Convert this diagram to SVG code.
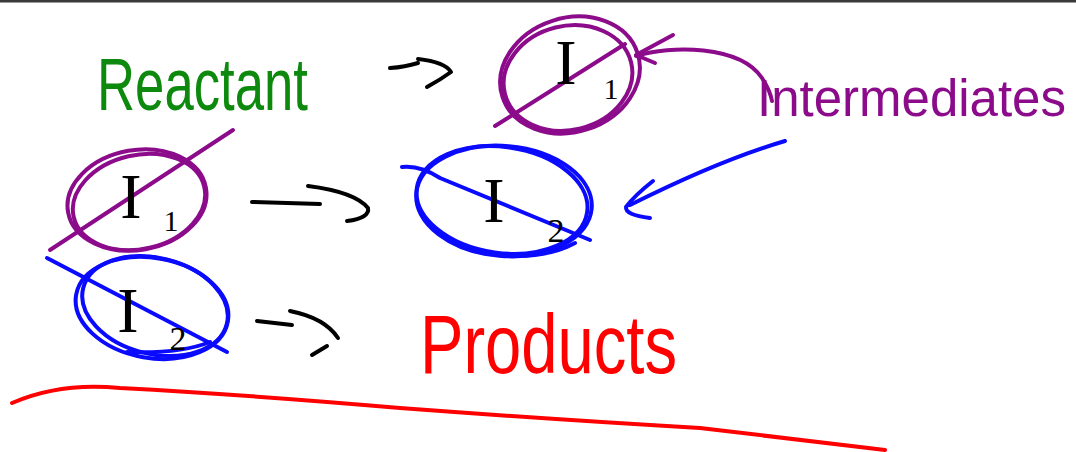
<svg xmlns="http://www.w3.org/2000/svg" width="1076" height="452" viewBox="0 0 1076 452">
<style>
.ink{fill:none;stroke-width:4;stroke-linecap:round;stroke-linejoin:round}
.k{stroke:#000}
.p{stroke:#8b0b8b}
.b{stroke:#0a0aff}
.r{stroke:#ff0000}
.hand{font-family:"Liberation Sans","DejaVu Sans",sans-serif}
.ivar{font-family:"Liberation Serif","DejaVu Serif",serif;fill:#000}
</style>
<rect width="1076" height="452" fill="#fff"/>
<rect x="0" y="0" width="1076" height="2.5" fill="#3a3a3a"/>

<g id="reactant">
<text class="hand" x="97" y="110" font-size="74" textLength="211" lengthAdjust="spacingAndGlyphs" fill="#0d8a0d">Reactant</text>
</g>

<g id="i1-top">
<ellipse class="ink p" cx="570" cy="75" rx="71" ry="57" transform="rotate(-18 570 75)"/>
<ellipse class="ink p" cx="568" cy="78" rx="65" ry="52" transform="rotate(-14 568 78)"/>
<path class="ink p" d="M495,126 L625,44"/>
<text class="ivar" x="566" y="84" font-size="64" text-anchor="middle">I</text>
<text class="ivar" x="611" y="99" font-size="30" text-anchor="middle">1</text>
</g>

<g id="intermediates">
<text class="hand" x="757" y="116" font-size="51" fill="#8b0b8b">Intermediates</text>
</g>

<g id="i1">
<ellipse class="ink p" cx="137" cy="200" rx="70" ry="50" transform="rotate(-10 137 200)"/>
<ellipse class="ink p" cx="139" cy="202" rx="67" ry="47" transform="rotate(-13 139 202)"/>
<path class="ink p" d="M50,250 L233,130"/>
<text class="ivar" x="131" y="218" font-size="64" text-anchor="middle">I</text>
<text class="ivar" x="171" y="231" font-size="30" text-anchor="middle">1</text>
</g>

<g id="i2">
<ellipse class="ink b" cx="504" cy="201" rx="88" ry="55" transform="rotate(5 504 201)"/>
<ellipse class="ink b" cx="502" cy="200" rx="86" ry="53" transform="rotate(8 502 200)"/>
<path class="ink b" d="M402,167 Q420,165 440,178 L590,240"/>
<path class="ink b" d="M482,253 Q540,262 575,243"/>
<text class="ivar" x="494" y="222" font-size="64" text-anchor="middle">I</text>
<text class="ivar" x="556" y="242" font-size="34" text-anchor="middle">2</text>
</g>

<g id="i2-bottom">
<ellipse class="ink b" cx="152" cy="308" rx="77" ry="50" transform="rotate(10 152 308)"/>
<ellipse class="ink b" cx="155" cy="306" rx="74" ry="48" transform="rotate(14 155 306)"/>
<path class="ink b" d="M47,258 L227,352"/>
<path class="ink b" d="M127,352 Q180,354 210,342"/>
<text class="ivar" x="128" y="332" font-size="64" text-anchor="middle">I</text>
<text class="ivar" x="178" y="350" font-size="34" text-anchor="middle">2</text>
</g>

<g id="products">
<text class="hand" x="420" y="373" font-size="84" textLength="257" lengthAdjust="spacingAndGlyphs" fill="#ff0000">Products</text>
</g>

<g id="connectors">
<path class="ink k" d="M390,68 Q405,67 418,63"/>
<path class="ink k" d="M418,59 Q445,62 451,72 Q440,80 427,87"/>
<path class="ink k" d="M252,202 Q285,203 320,204"/>
<path class="ink k" d="M308,186 Q355,192 368,208 Q370,218 347,221"/>
<path class="ink k" d="M257,321 Q275,323 292,325"/>
<path class="ink k" d="M290,311 Q325,318 338,338"/>
<path class="ink k" d="M312,355 L327,346"/>
<path class="ink p" d="M636,56 C670,45 740,45 762,78 Q770,90 772,101"/>
<path class="ink p" d="M673,35 L636,55 L655,63"/>
<path class="ink b" d="M785,141 Q720,160 630,205"/>
<path class="ink b" d="M653,181 Q635,195 626,207 Q625,215 650,218"/>
</g>

<g id="underline">
<path class="ink r" d="M12,403 Q60,382 120,388 Q250,395 400,408 Q560,420 700,428 Q800,440 885,450"/>
</g>
</svg>
